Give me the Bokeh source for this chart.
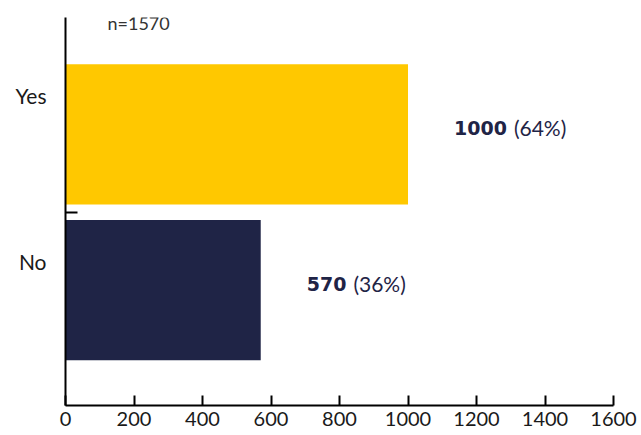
from bokeh.plotting import figure
from bokeh.models import ColumnDataSource, FixedTicker, Label, Range1d
from bokeh.core.properties import value
from bokeh.embed import file_html
from bokeh.resources import INLINE

# ---- data ----
categories = ["No", "Yes"]
counts = [570, 1000]
percent_labels = ["(36%)", "(64%)"]
bar_colors = ["#1F2446", "#FFC800"]
x_ticks = [0, 200, 400, 600, 800, 1000, 1200, 1400, 1600]
n_label = "n=1570"

# ---- style ----
FONT = "Lato"
BOLD_FONT = "DejaVu Sans"
TXT = "#1a1a1a"
NAVY = "#1F2446"
VAL_SIZE = 21
BOLD_SIZE = 19
CHAR_W = 0.696 * BOLD_SIZE
PX_PER_UNIT = 156.0
label_shift = [28.5, 38.5]  # screen px the category labels sit above bar centres

positions = [i + 0.5 for i in range(len(categories))]
count_text = [str(c) for c in counts]
pct_offset = [46 + len(t) * CHAR_W + 7 for t in count_text]

# category label tick positions (labels float a bit above each bar centre)
label_ticks = [pos + s / PX_PER_UNIT for pos, s in zip(positions, label_shift)]
boundaries = [(a + b) / 2 for a, b in zip(positions[:-1], positions[1:])]

src = ColumnDataSource(dict(
    pos=positions, count=counts, count_text=count_text,
    pct=percent_labels, color=bar_colors, pct_off=pct_offset,
))

y_start, y_end = -0.24, 2.25
p = figure(width=641, height=435, x_range=Range1d(0, 1600), y_range=Range1d(y_start, y_end),
           output_backend="svg", toolbar_location=None,
           min_border_left=65, min_border_right=28, min_border_top=17, min_border_bottom=30)
p.background_fill_color = "white"
p.border_fill_color = "white"
p.outline_line_color = None
p.xgrid.visible = False
p.ygrid.visible = False

p.hbar(y="pos", left=0, right="count", height=0.9, fill_color="color", line_color=None, source=src)

# x axis
xa = p.xaxis[0]
xa.ticker = FixedTicker(ticks=x_ticks)
xa.major_tick_in = 10
xa.major_tick_out = 0
xa.minor_tick_line_color = None
xa.axis_line_width = 2
xa.axis_line_color = "black"
xa.major_tick_line_width = 2
xa.major_tick_line_color = "black"
xa.major_label_text_font = FONT
xa.major_label_text_font_size = "20px"
xa.major_label_text_color = TXT
xa.major_label_standoff = 6

# y axis: category labels as major labels (no tick lines), one inward minor tick between bars
ya = p.yaxis[0]
ya.ticker = FixedTicker(ticks=label_ticks, minor_ticks=boundaries)
ya.major_label_overrides = {t: c for t, c in zip(label_ticks, categories)}
ya.major_tick_line_color = None
ya.major_tick_in = 0
ya.major_tick_out = 0
ya.minor_tick_in = 12
ya.minor_tick_out = 0
ya.minor_tick_line_width = 2
ya.minor_tick_line_color = "black"
ya.axis_line_width = 2
ya.axis_line_color = "black"
ya.major_label_text_font = FONT
ya.major_label_text_font_size = "21px"
ya.major_label_text_color = TXT
ya.major_label_standoff = 19

# value labels
p.text(x="count", y="pos", text="count_text", x_offset=46, y_offset=-6.5,
       text_align="left", text_baseline="middle", text_font=value(BOLD_FONT),
       text_font_style="bold", text_font_size=f"{BOLD_SIZE}px", text_color=NAVY, source=src)
p.text(x="count", y="pos", text="pct", x_offset="pct_off", y_offset=-6.5,
       text_align="left", text_baseline="middle", text_font=value(FONT),
       text_font_size=f"{VAL_SIZE}px", text_color=NAVY, source=src)

# sample size note
p.add_layout(Label(x=0, y=y_end, text=n_label, x_offset=42, y_offset=-5,
                   text_align="left", text_baseline="middle",
                   text_font=FONT, text_font_size="18px", text_color="#333333"))

open("out.html", "w").write(file_html(p, INLINE))
